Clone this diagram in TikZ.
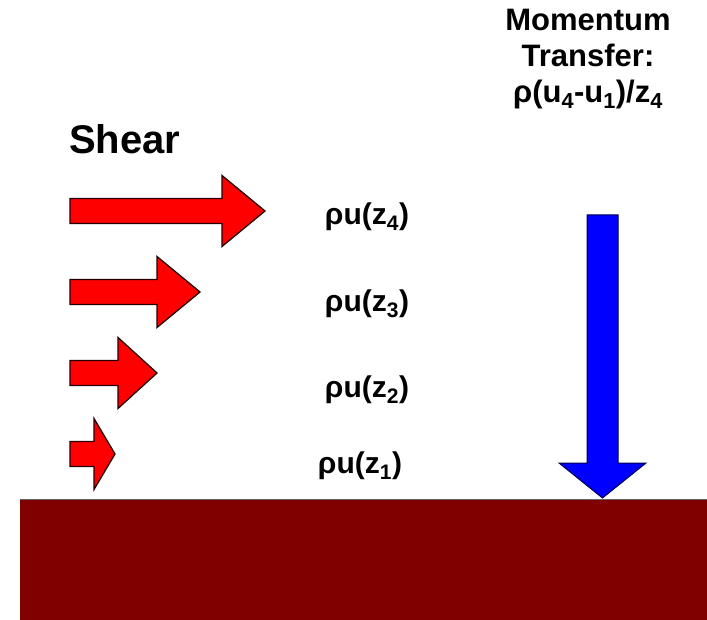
\documentclass[tikz,border=0pt]{standalone}
\usepackage{fontspec}
\setmainfont{Liberation Sans}
\usepackage{xcolor}
\usepackage{tikz}
\usetikzlibrary{positioning}

\definecolor{groundred}{HTML}{800000}
\definecolor{shearred}{HTML}{FF0000}
\definecolor{fluxblue}{HTML}{0000FF}

\begin{document}
\begin{tikzpicture}[x=1pt, y=-1pt,
        shear arrow/.style={fill=shearred, draw=black!85!red, line width=1.3pt, line join=miter},
        flux arrow/.style={fill=fluxblue, draw=black!70!blue, line width=1pt, line join=miter},
        lbl/.style={font=\bfseries\fontsize{30}{32}\selectfont, inner sep=0pt}]
        \useasboundingbox (0,0) rectangle (707,620);

        % ground
        \fill[groundred] (20,499) rectangle (707,620);
        \draw[black!60, line width=1pt] (20,499) -- (707,499);

        \node[font=\bfseries\fontsize{40}{42}\selectfont, anchor=west, inner sep=0pt] (shear) at (69,139) {Shear};

        \foreach \i/\xs/\xt/\yc/\xl/\yl in {4/222/265/211/367/217, 3/157/200/292/367/304,
                2/118/157/373/367/390, 1/94/115/454/360/466} {
            \draw[shear arrow] (70,\yc-12.5) -- (\xs,\yc-12.5) -- (\xs,\yc-35.5) -- (\xt,\yc)
                -- (\xs,\yc+35.5) -- (\xs,\yc+12.5) -- (70,\yc+12.5) -- cycle;
            \node[lbl] (rho\i) at (\xl,\yl) {ρu(z\textsubscript{\i})};
        }

        \node[font=\bfseries\fontsize{31}{36}\selectfont, align=center, inner sep=0pt] (transfer) at (588,59)
            {Momentum\\Transfer:\\ρ(u\textsubscript{4}-u\textsubscript{1})/z\textsubscript{4}};

        % downward transfer
        \draw[flux arrow] (587,215) -- (618,215) -- (618,463) -- (646,463) -- (602.5,498)
            -- (559,463) -- (587,463) -- cycle;
    \end{tikzpicture}
\end{document}
